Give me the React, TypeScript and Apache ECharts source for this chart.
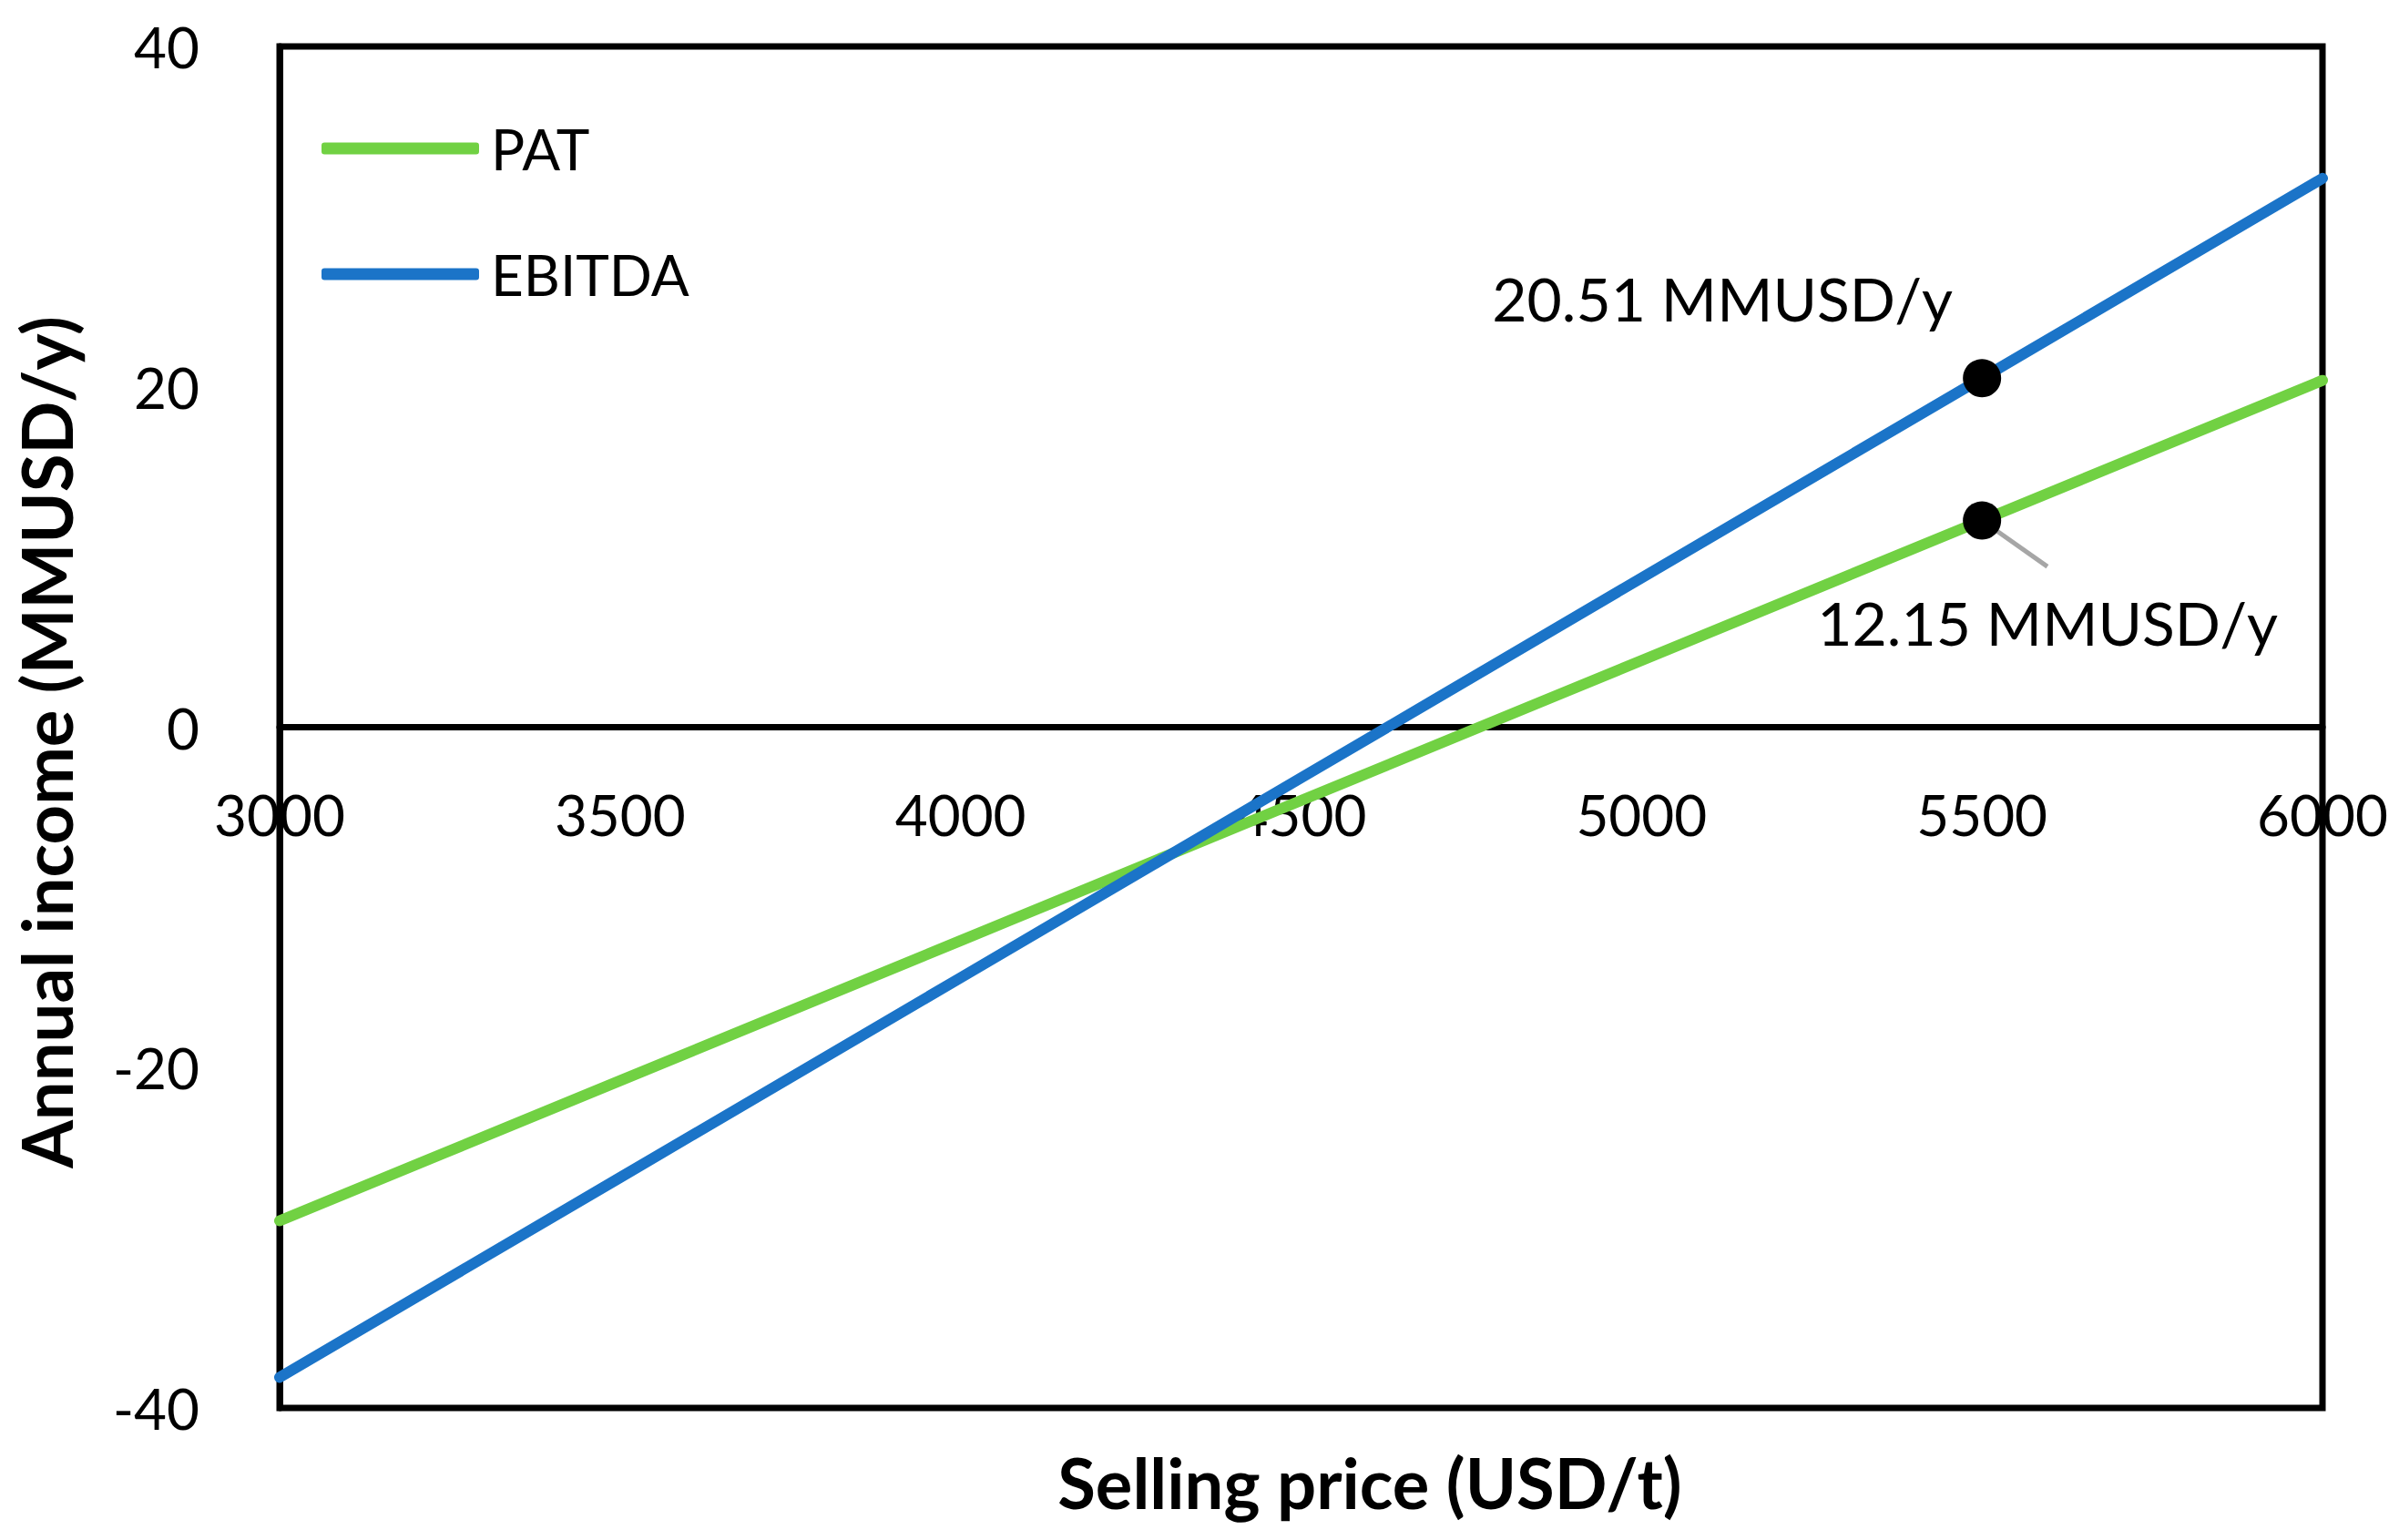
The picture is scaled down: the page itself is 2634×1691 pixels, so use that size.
import React, { useEffect, useRef } from "react";
import * as echarts from "echarts";

const prices = [3000, 3500, 4000, 4500, 5000, 5500, 6000];
const pat = [-29.0, -20.77, -12.54, -4.31, 3.92, 12.15, 20.38];
const ebitda = [-38.2, -26.46, -14.72, -2.98, 8.77, 20.51, 32.25];
const highlightPrice = 5500;
const highlightEbitda = 20.51;
const highlightPat = 12.15;
const leaderEnd = [5596, 9.44];
const xTicks = { min: 3000, max: 6000, interval: 500 };
const yTicks = { min: -40, max: 40, interval: 20 };

const FONT = "Lato";
const GREEN = "#71d143";
const BLUE = "#1b74c8";

const GRID = { left: 307, right: 84, top: 51, bottom: 145 };
const H = 1691;

export default function App() {
  const ref = useRef<HTMLDivElement>(null);
  useEffect(() => {
    if (!ref.current) return;
    const chart = echarts.init(ref.current, null, { renderer: "svg" });
    const fmt = (v: number) => `${v.toFixed(2)} MMUSD/y`;
    const gridH = H - GRID.top - GRID.bottom;
    const zeroOffset = -(gridH * (0 - yTicks.min)) / (yTicks.max - yTicks.min);
    chart.setOption({
      animation: false,
      backgroundColor: "#fff",
      textStyle: { fontFamily: FONT },
      grid: {
        ...GRID,
        show: true,
        borderColor: "#000",
        borderWidth: 7,
        backgroundColor: "transparent",
      },
      legend: {
        orient: "vertical",
        left: 348,
        top: 127,
        icon: "roundRect",
        itemWidth: 173,
        itemHeight: 13,
        itemGap: 76,
        data: ["PAT", "EBITDA"],
        textStyle: {
          fontFamily: FONT,
          fontSize: 62,
          color: "#000",
          padding: [0, 0, 0, 8],
        },
      },
      xAxis: {
        type: "value",
        min: xTicks.min,
        max: xTicks.max,
        interval: xTicks.interval,
        position: "bottom",
        offset: zeroOffset,
        axisLine: { show: true, onZero: false, lineStyle: { color: "#000", width: 7 } },
        axisTick: { show: false },
        splitLine: { show: false },
        axisLabel: {
          margin: 64,
          fontFamily: FONT,
          fontSize: 62,
          color: "#000",
          showMinLabel: true,
          showMaxLabel: true,
          formatter: (v: number) => String(v),
        },
      },
      yAxis: {
        type: "value",
        min: yTicks.min,
        max: yTicks.max,
        interval: yTicks.interval,
        axisLine: { show: true, onZero: false, lineStyle: { color: "#000", width: 7 } },
        axisTick: { show: false },
        splitLine: { show: false },
        axisLabel: {
          margin: 88,
          fontFamily: FONT,
          fontSize: 62,
          color: "#000",
          formatter: (v: number) => String(v),
        },
      },
      graphic: [
        {
          type: "text",
          x: 1504,
          y: 1627,
          style: {
            text: "Selling price (USD/t)",
            font: `bold 76px ${FONT}`,
            fill: "#000",
            align: "center",
            verticalAlign: "middle",
          },
        },
        {
          type: "text",
          x: 50,
          y: 815,
          rotation: Math.PI / 2,
          style: {
            text: "Annual income (MMUSD/y)",
            font: `bold 76px ${FONT}`,
            fill: "#000",
            align: "center",
            verticalAlign: "middle",
          },
        },
      ],
      series: [
        {
          name: "PAT",
          type: "line",
          symbol: "none",
          data: prices.map((p, i) => [p, pat[i]]),
          lineStyle: { color: GREEN, width: 12, cap: "round" },
          itemStyle: { color: GREEN },
          z: 2,
          markLine: {
            silent: true,
            symbol: "none",
            label: { show: false },
            lineStyle: { color: "#a6a6a6", width: 5, type: "solid" },
            data: [
              [
                { coord: [highlightPrice, highlightPat] },
                { coord: leaderEnd },
              ],
            ],
          },
        },
        {
          name: "EBITDA",
          type: "line",
          symbol: "none",
          data: prices.map((p, i) => [p, ebitda[i]]),
          lineStyle: { color: BLUE, width: 12, cap: "round" },
          itemStyle: { color: BLUE },
          z: 2,
        },
        {
          name: "points",
          type: "scatter",
          symbol: "circle",
          symbolSize: 42,
          itemStyle: { color: "#000", opacity: 1 },
          z: 5,
          data: [
            {
              value: [highlightPrice, highlightEbitda],
              label: {
                show: true,
                position: "inside",
                offset: [-285, -88],
                formatter: () => fmt(highlightEbitda),
              },
            },
            {
              value: [highlightPrice, highlightPat],
              label: {
                show: true,
                position: "inside",
                offset: [72, 112],
                formatter: () => fmt(highlightPat),
              },
            },
          ],
          label: {
            fontFamily: FONT,
            fontSize: 66,
            color: "#000",
            opacity: 1,
            align: "center",
            verticalAlign: "middle",
          },
        },
      ],
    });
    return () => chart.dispose();
  }, []);
  return (
    <div
      ref={ref}
      style={{ position: "fixed", left: 0, top: 0, width: "2634px", height: "1691px" }}
    />
  );
}
